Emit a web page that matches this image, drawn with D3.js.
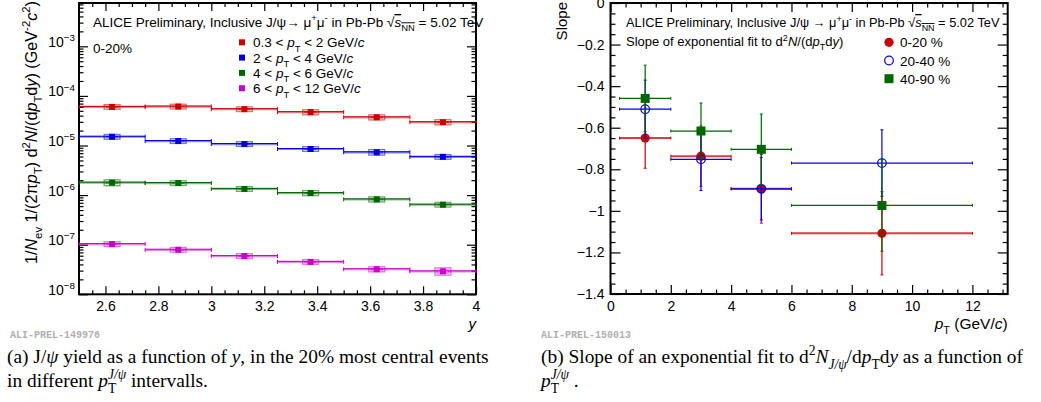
<!DOCTYPE html>
<html>
<head>
<meta charset="utf-8">
<script src="https://cdn.jsdelivr.net/npm/d3@7"></script>
<style>
  body { margin: 0; background: #fff; }
  text { font-family: "Liberation Sans", Arial, sans-serif; }
  .cap { font-family: "Liberation Serif", "Times New Roman", serif; }
  .tag { font-family: "Liberation Mono", monospace; font-weight: bold; fill: #b0b0b0; }
</style>
</head>
<body>
<div id="chart"></div>
<script>
// ---- data (left: yield vs rapidity, right: slope vs pT) ----
const yEdges = [2.5, 2.75, 3, 3.25, 3.5, 3.75, 4]
const yTicks = [2.6, 2.8, 3, 3.2, 3.4, 3.6, 3.8, 4]
const logTicks = [1e-8, 1e-7, 1e-6, 1e-5, 1e-4, 1e-3]

const yieldPt0 = [6.0e-5, 6.1e-5, 5.4e-5, 4.7e-5, 3.7e-5, 2.95e-5]
const yieldPt1 = [1.50e-5, 1.23e-5, 1.07e-5, 8.5e-6, 7.3e-6, 5.9e-6]
const yieldPt2 = [1.78e-6, 1.75e-6, 1.33e-6, 1.10e-6, 8.2e-7, 6.4e-7]
const yieldPt3 = [1.03e-7, 7.9e-8, 5.9e-8, 4.5e-8, 3.2e-8, 2.9e-8]
const sysPt0 = [0.06, 0.06, 0.06, 0.07, 0.07, 0.07]
const sysPt1 = [0.06, 0.06, 0.06, 0.06, 0.08, 0.06]
const sysPt2 = [0.09, 0.06, 0.06, 0.07, 0.07, 0.06]
const sysPt3 = [0.06, 0.06, 0.06, 0.06, 0.07, 0.12]
const ptLabels = [["0.3 < ", "p", " < 2 GeV/"], ["2 < ", "p", " < 4 GeV/"], ["4 < ", "p", " < 6 GeV/"], ["6 < ", "p", " < 12 GeV/"]]

const ptLo = [0.3, 2, 4, 6]
const ptHi = [2, 4, 6, 12]
const ptMean = [1.15, 3, 5, 9]
const ptTicks = [0, 2, 4, 6, 8, 10, 12]
const slopeTicks = [-1.4, -1.2, -1, -0.8, -0.6, -0.4, -0.2, 0]
const slope0_20 = [-0.650, -0.737, -0.894, -1.108]
const err0_20 = [0.145, 0.145, 0.165, 0.20]
const slope20_40 = [-0.511, -0.752, -0.894, -0.770]
const err20_40 = [0.14, 0.15, 0.15, 0.16]
const slope40_90 = [-0.459, -0.616, -0.704, -0.974]
const err40_90 = [0.16, 0.135, 0.17, 0.22]
const centLabels = ["0-20 %", "20-40 %", "40-90 %"]

// ---- layout ----
const WIDTH = 1041, HEIGHT = 402
const LP = {LEFT: 79, RIGHT: 476, TOP: 3, BOTTOM: 294.3}
const RP = {LEFT: 610.5, RIGHT: 1007.7, TOP: 3, BOTTOM: 294}
const C = {red: "#cc0000", blue: "#0000dd", green: "#006600", mag: "#cc00cc"}

const svg = d3.select("#chart").append("svg")
    .attr("width", WIDTH).attr("height", HEIGHT)
svg.append("rect").attr("width", WIDTH).attr("height", HEIGHT).attr("fill", "#fff")

// text with italic / sub / sup pieces: parts = [str, "i sub"] or plain str
function rich(sel, parts, size) {
    let cur = 0
    parts.forEach(p => {
        const [str, st] = typeof p === "string" ? [p, ""] : p
        const f = st.split(" ")
        let target = 0, fs = size
        if (f.includes("sub")) { target = 0.32 * size; fs = size * 0.7 }
        if (f.includes("sup")) { target = -0.42 * size; fs = size * 0.7 }
        const t = sel.append("tspan").text(str)
            .attr("dy", (target - cur).toFixed(2))
            .style("font-size", fs + "px")
        if (f.includes("i")) t.style("font-style", "italic")
        if (f.includes("ol")) t.style("text-decoration", "overline")
        const dx = f.find(s => s.startsWith("dx"))
        if (dx) t.attr("dx", +dx.slice(2))
        cur = target
    })
    return sel
}

function frameAxes(g, x, y, P, opt) {
    const tick = 1.2
    // major / minor ticks on all four sides, pointing inward
    g.append("g").attr("transform", `translate(0,${P.BOTTOM})`)
        .call(d3.axisBottom(x).tickValues(opt.xMajor).tickSizeInner(-opt.xMajLen).tickSizeOuter(0)
            .tickPadding(7).tickFormat(opt.xFmt))
        .call(a => a.selectAll("text").style("font-size", "14px").attr("fill", "#000"))
    g.append("g").attr("transform", `translate(0,${P.BOTTOM})`)
        .call(d3.axisBottom(x).tickValues(opt.xMinor).tickSizeInner(-opt.xMajLen / 2).tickSizeOuter(0).tickFormat(""))
    g.append("g").attr("transform", `translate(0,${P.TOP})`)
        .call(d3.axisTop(x).tickValues(opt.xMajor).tickSizeInner(-opt.xMajLen).tickSizeOuter(0).tickFormat(""))
    g.append("g").attr("transform", `translate(0,${P.TOP})`)
        .call(d3.axisTop(x).tickValues(opt.xMinor).tickSizeInner(-opt.xMajLen / 2).tickSizeOuter(0).tickFormat(""))
    const yl = g.append("g").attr("transform", `translate(${P.LEFT},0)`)
        .call(d3.axisLeft(y).tickValues(opt.yMajor).tickSizeInner(-opt.yMajLen).tickSizeOuter(0)
            .tickPadding(opt.yPad).tickFormat(opt.yFmt || ""))
    yl.selectAll("text").style("font-size", "14px").attr("fill", "#000")
    g.append("g").attr("transform", `translate(${P.LEFT},0)`)
        .call(d3.axisLeft(y).tickValues(opt.yMinor).tickSizeInner(-opt.yMajLen / 2).tickSizeOuter(0).tickFormat(""))
    g.append("g").attr("transform", `translate(${P.RIGHT},0)`)
        .call(d3.axisRight(y).tickValues(opt.yMajor).tickSizeInner(-opt.yMajLen).tickSizeOuter(0).tickFormat(""))
    g.append("g").attr("transform", `translate(${P.RIGHT},0)`)
        .call(d3.axisRight(y).tickValues(opt.yMinor).tickSizeInner(-opt.yMajLen / 2).tickSizeOuter(0).tickFormat(""))
    g.selectAll(".domain").remove()
    g.selectAll(".tick line").attr("stroke", "#000").attr("stroke-width", tick)
    g.append("rect").attr("x", P.LEFT).attr("y", P.TOP)
        .attr("width", P.RIGHT - P.LEFT).attr("height", P.BOTTOM - P.TOP)
        .attr("fill", "none").attr("stroke", "#000").attr("stroke-width", 2)
    return yl
}

// ================= left panel =================
const xL = d3.scaleLinear().domain([2.5, 4]).range([LP.LEFT, LP.RIGHT])
const yL = d3.scaleLog().domain([1e-8, Math.pow(10, -2.127)]).range([LP.BOTTOM, LP.TOP])
const gL = svg.append("g")

const logMinor = []
logTicks.forEach(d => d3.range(2, 10).forEach(k => { if (d * k < yL.domain()[1]) logMinor.push(d * k) }))
logMinor.push(2e-3, 3e-3, 4e-3, 5e-3, 6e-3, 7e-3)
const yMinorL = []
for (let v = 2.55; v < 4; v += 0.05) yMinorL.push(+v.toFixed(2))

const ylL = frameAxes(gL, xL, yL, LP, {
    xMajor: yTicks, xMinor: yMinorL.filter(v => !yTicks.includes(v)), xMajLen: 8, xFmt: d3.format("~g"),
    yMajor: logTicks, yMinor: logMinor.filter((v, i, a) => a.indexOf(v) === i), yMajLen: 9, yPad: 4
})
ylL.selectAll(".tick text").each(function (d) {
    const t = d3.select(this).text("")
    rich(t, ["10", [String(Math.round(Math.log10(d))).replace("-", "\u2212"), "sup"]], 14)
})

const series = [
    {v: yieldPt0, s: sysPt0, c: C.red},
    {v: yieldPt1, s: sysPt1, c: C.blue},
    {v: yieldPt2, s: sysPt2, c: C.green},
    {v: yieldPt3, s: sysPt3, c: C.mag}
]
series.forEach(sr => {
    const g = gL.append("g")
    sr.v.forEach((v, i) => {
        const x0 = xL(yEdges[i]), x1 = xL(yEdges[i + 1]), xc = xL((yEdges[i] + yEdges[i + 1]) / 2)
        const yy = yL(v)
        g.append("line").attr("x1", x0).attr("x2", x1).attr("y1", yy).attr("y2", yy)
            .attr("stroke", sr.c).attr("stroke-width", 2.2).attr("opacity", 0.45)
        g.append("line").attr("x1", x0).attr("x2", x1).attr("y1", yy - 0.5).attr("y2", yy - 0.5)
            .attr("stroke", sr.c).attr("stroke-width", 1)
        ;[x0, x1].forEach(xe => g.append("line").attr("x1", xe).attr("x2", xe)
            .attr("y1", yy - 2).attr("y2", yy + 2).attr("stroke", sr.c).attr("stroke-width", 1))
        // systematic box
        const bx0 = xL((yEdges[i] + yEdges[i + 1]) / 2 - 0.026), bx1 = xL((yEdges[i] + yEdges[i + 1]) / 2 + 0.026)
        const by0 = yL(v * (1 + sr.s[i])), by1 = yL(v * (1 - sr.s[i]))
        g.append("rect").attr("x", bx0 - 1).attr("y", by0 - 1).attr("width", bx1 - bx0 + 2).attr("height", by1 - by0 + 2)
            .attr("fill", "none").attr("stroke", sr.c).attr("stroke-width", 1.4).attr("opacity", 0.55)
        g.append("rect").attr("x", bx0 + 1).attr("y", by0 + 1).attr("width", bx1 - bx0 - 2).attr("height", by1 - by0 - 2)
            .attr("fill", "none").attr("stroke", sr.c).attr("stroke-width", 1).attr("opacity", 0.6)
        g.append("rect").attr("x", xc - 3).attr("y", yy - 3).attr("width", 6).attr("height", 6).attr("fill", sr.c)
    })
})

rich(gL.append("text").attr("x", 93).attr("y", 27).attr("fill", "#000"),
    ["ALICE Preliminary, Inclusive J/\u03c8\u2192 \u03bc", ["+", "sup"], "\u03bc", ["-", "sup"],
     " in Pb-Pb \u221a", ["s", "i ol"], ["NN", "sub ol"], " = 5.02 TeV"], 13.5)
gL.append("text").attr("x", 93).attr("y", 53).style("font-size", "13.5px").text("0-20%")
series.forEach((sr, k) => {
    const yy = 42.3 + k * 15.3
    gL.append("rect").attr("x", 239).attr("y", yy - 3).attr("width", 6).attr("height", 6).attr("fill", sr.c)
    const lb = ptLabels[k]
    rich(gL.append("text").attr("x", 253).attr("y", yy + 5),
        [lb[0], [lb[1], "i"], ["T", "sub"], lb[2], ["c", "i"]], 13.5)
})

rich(gL.append("text").attr("transform", "translate(37,1) rotate(-90)").attr("text-anchor", "end"),
    ["1/", ["N", "i"], ["ev", "sub"], " 1/(2\u03c0", ["p", "i"], ["T", "sub"], ") d", ["2", "sup"], ["N", "i"],
     "/(d", ["p", "i"], ["T", "sub"], "d", ["y", "i"], ") (GeV", ["-2", "sup"], ["c", "i"], ["2", "sup"], ")"], 16.2)
gL.append("text").attr("x", 476).attr("y", 329).attr("text-anchor", "end")
    .style("font-size", "15px").style("font-style", "italic").text("y")
gL.append("text").attr("class", "tag").attr("x", 10).attr("y", 338).style("font-size", "10px").text("ALI-PREL-149976")

// ================= right panel =================
const xR = d3.scaleLinear().domain([0, 13.17]).range([RP.LEFT, RP.RIGHT])
const yR = d3.scaleLinear().domain([-1.4, 0]).range([RP.BOTTOM, RP.TOP])
const gR = svg.append("g")
const xMinorR = [], yMinorR = []
for (let v = 0.5; v < 13.17; v += 0.5) if (v % 2 !== 0) xMinorR.push(v)
for (let k = -28; k <= 0; k++) if (k % 4 !== 0) yMinorR.push(k * 0.05)

frameAxes(gR, xR, yR, RP, {
    xMajor: ptTicks, xMinor: xMinorR, xMajLen: 9, xFmt: d3.format("~g"),
    yMajor: slopeTicks, yMinor: yMinorR, yMajLen: 10, yPad: 6,
    yFmt: d => d === 0 ? "0" : d3.format("~g")(d)
})

const cents = [
    {v: slope0_20, e: err0_20, c: C.red, m: "dot"},
    {v: slope20_40, e: err20_40, c: "#0000ee", m: "open"},
    {v: slope40_90, e: err40_90, c: C.green, m: "sq"}
]
function marker(g, m, c, cx, cy) {
    if (m === "dot") g.append("circle").attr("cx", cx).attr("cy", cy).attr("r", 4.6).attr("fill", c)
    else if (m === "open") g.append("circle").attr("cx", cx).attr("cy", cy).attr("r", 4.3)
        .attr("fill", "none").attr("stroke", c).attr("stroke-width", 1.2)
    else g.append("rect").attr("x", cx - 4.5).attr("y", cy - 4.5).attr("width", 9).attr("height", 9).attr("fill", c)
}
cents.forEach(ct => {
    const g = gR.append("g")
    ct.v.forEach((v, i) => {
        const cx = xR(ptMean[i]), cy = yR(v)
        const xa = xR(ptLo[i]), xb = xR(ptHi[i]), ya = yR(v + ct.e[i]), yb = yR(v - ct.e[i])
        g.append("line").attr("x1", xa).attr("x2", xb).attr("y1", cy).attr("y2", cy)
            .attr("stroke", ct.c).attr("stroke-width", ct.m === "dot" ? 2 : 1.2).attr("opacity", ct.m === "dot" ? 0.75 : 1)
        g.append("line").attr("x1", cx).attr("x2", cx).attr("y1", ya).attr("y2", yb)
            .attr("stroke", ct.c).attr("stroke-width", 1.2)
        ;[xa, xb].forEach(xe => g.append("line").attr("x1", xe).attr("x2", xe)
            .attr("y1", cy - 1.5).attr("y2", cy + 1.5).attr("stroke", ct.c).attr("stroke-width", 1))
        ;[ya, yb].forEach(ye => g.append("line").attr("x1", cx - 1.5).attr("x2", cx + 1.5)
            .attr("y1", ye).attr("y2", ye).attr("stroke", ct.c).attr("stroke-width", 1))
        marker(g, ct.m, ct.c, cx, cy)
    })
})

rich(gR.append("text").attr("x", 626).attr("y", 27),
    ["ALICE Preliminary, Inclusive J/\u03c8 \u2192 \u03bc", ["+", "sup"], "\u03bc", ["-", "sup"],
     " in Pb-Pb \u221a", ["s", "i ol"], ["NN", "sub ol"], " = 5.02 TeV"], 12.8)
rich(gR.append("text").attr("x", 626).attr("y", 46),
    ["Slope of exponential fit to d", ["2", "sup"], ["N", "i"], "/(d", ["p", "i"], ["T", "sub"], "d", ["y", "i"], ")"], 13)
cents.forEach((ct, k) => {
    const yy = 42.3 + k * 18.2
    marker(gR, ct.m, ct.c, 889, yy)
    gR.append("text").attr("x", 900).attr("y", yy + 5).style("font-size", "13.5px").text(centLabels[k])
})
gR.append("text").attr("transform", "translate(567,2) rotate(-90)").attr("text-anchor", "end")
    .style("font-size", "15px").text("Slope")
rich(gR.append("text").attr("x", 1007.7).attr("y", 329).attr("text-anchor", "end"),
    [["p", "i"], ["T", "sub"], " (GeV/", ["c", "i"], ")"], 15.5)
gR.append("text").attr("class", "tag").attr("x", 541).attr("y", 338).style("font-size", "10px").text("ALI-PREL-150013")

// ================= captions =================
const CS = 19.4
rich(svg.append("text").attr("class", "cap").attr("x", 7).attr("y", 363),
    ["(a) J/", ["\u03c8", "i"], " yield as a function of ", ["y", "i"], ", in the 20% most central events"], CS)
rich(svg.append("text").attr("class", "cap").attr("x", 7).attr("y", 387),
    ["in different ", ["p", "i"], ["T", "sub"], ["J/\u03c8", "i sup dx-8.3"], " intervalls."], CS)
rich(svg.append("text").attr("class", "cap").attr("x", 541).attr("y", 363),
    ["(b) Slope of an exponential fit to d", ["2", "sup"], ["N", "i"], ["J/\u03c8", "i sub"], "/d", ["p", "i"], ["T", "sub"],
     "d", ["y", "i"], " as a function of"], CS)
rich(svg.append("text").attr("class", "cap").attr("x", 541).attr("y", 387),
    [["p", "i"], ["T", "sub"], ["J/\u03c8", "i sup dx-8.3"], " ."], CS)
</script>
</body>
</html>
